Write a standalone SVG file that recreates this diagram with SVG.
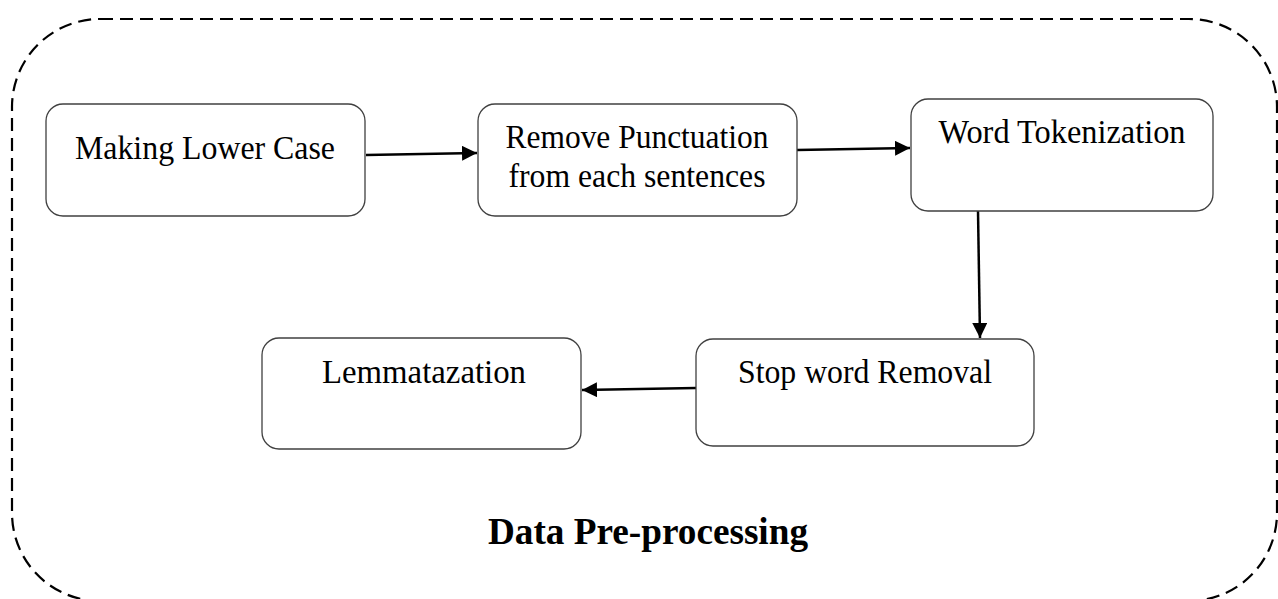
<svg xmlns="http://www.w3.org/2000/svg" width="1278" height="599" viewBox="0 0 1278 599">
  <style>
    .box { fill: #ffffff; stroke: #404040; stroke-width: 1.3; }
    .lbl { font-family: "Liberation Serif", "Times New Roman", serif; font-size: 33px; fill: #000; text-anchor: middle; }
    .title { font-family: "Liberation Serif", "Times New Roman", serif; font-size: 38px; font-weight: bold; fill: #000; text-anchor: start; }
    .edge { stroke: #000; stroke-width: 2.5; fill: none; }
  </style>
  <defs>
    <marker id="arrow" viewBox="0 0 10 10" refX="10" refY="5" markerWidth="6" markerHeight="6" markerUnits="strokeWidth" orient="auto">
      <path d="M0,0 L10,5 L0,10 Z" fill="#000"/>
    </marker>
  </defs>
  <rect width="1278" height="599" fill="#ffffff"/>
  <g id="frame">
    <rect x="12" y="19" width="1265" height="582" rx="88" ry="88" fill="none" stroke="#000" stroke-width="2.2" stroke-dasharray="13 7"/>
    <text class="title" x="488" y="544" textLength="320" lengthAdjust="spacingAndGlyphs">Data Pre-processing</text>
  </g>
  <g id="connectors">
    <line class="edge" x1="366" y1="155" x2="477" y2="153" marker-end="url(#arrow)"/>
    <line class="edge" x1="797" y1="150" x2="910" y2="148" marker-end="url(#arrow)"/>
    <line class="edge" x1="978" y1="211" x2="980" y2="338" marker-end="url(#arrow)"/>
    <line class="edge" x1="696" y1="388" x2="582" y2="390" marker-end="url(#arrow)"/>
  </g>
  <g id="n1">
    <rect class="box" x="46" y="104" width="319" height="112" rx="17"/>
    <text class="lbl" x="205" y="159" textLength="260" lengthAdjust="spacingAndGlyphs">Making Lower Case</text>
  </g>
  <g id="n2">
    <rect class="box" x="478" y="104" width="319" height="112" rx="17"/>
    <text class="lbl" x="637" y="148" textLength="263" lengthAdjust="spacingAndGlyphs">Remove Punctuation</text>
    <text class="lbl" x="637" y="187" textLength="257" lengthAdjust="spacingAndGlyphs">from each sentences</text>
  </g>
  <g id="n3">
    <rect class="box" x="911" y="99" width="302" height="112" rx="17"/>
    <text class="lbl" x="1062" y="143" textLength="247" lengthAdjust="spacingAndGlyphs">Word Tokenization</text>
  </g>
  <g id="n4">
    <rect class="box" x="696" y="339" width="338" height="107" rx="17"/>
    <text class="lbl" x="865" y="383" textLength="254" lengthAdjust="spacingAndGlyphs">Stop word Removal</text>
  </g>
  <g id="n5">
    <rect class="box" x="262" y="338" width="319" height="111" rx="17"/>
    <text class="lbl" x="424" y="383" textLength="204" lengthAdjust="spacingAndGlyphs">Lemmatazation</text>
  </g>
</svg>
